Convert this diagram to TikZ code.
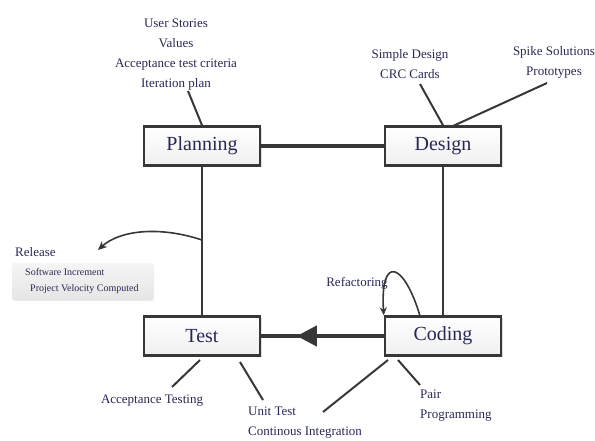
\documentclass[tikz,border=0pt]{standalone}
\usepackage{fontspec}
\setmainfont{Liberation Serif}
\usetikzlibrary{arrows.meta,shadows}
\definecolor{txt}{RGB}{40,40,85}
\definecolor{ln}{RGB}{55,55,55}
\tikzset{
  box/.style={draw=ln, line width=2.5pt, minimum width=116pt, minimum height=39pt,
    top color=white, bottom color=gray!12, text=txt,
    font=\fontsize{20}{24}\selectfont,
    drop shadow={opacity=0.25, shadow xshift=1.5pt, shadow yshift=-1.5pt}},
  note/.style={text=txt, font=\fontsize{13}{20}\selectfont, inner sep=0pt, align=center},
  small/.style={text=txt, font=\fontsize{10}{12}\selectfont, inner sep=0pt},
  conn/.style={draw=ln, line width=2.5pt},
  thick conn/.style={draw=ln, line width=4pt},
  ann/.style={draw=ln, line width=2pt},
}
\begin{document}
\begin{tikzpicture}[x=1pt,y=-1pt]
\useasboundingbox (0,0) rectangle (595,441);
% boxes
\node[box] (plan) at (202,146) {Planning};
\node[box] (des)  at (443,146) {Design};
\node[box] (test) at (202,336) {Test};
\node[box] (cod)  at (443,336) {Coding};
% main connectors
\draw[thick conn] (plan) -- (des);
\draw[conn] (plan) -- (test);
\draw[conn] (des) -- (cod);
\draw[thick conn] (cod) -- (test);
\path (cod.west) -- (test.east) coordinate[pos=0.71] (mid);
\draw[ln, line width=4pt, -{Triangle[length=20pt,width=20pt]}] (cod.west) -- (mid);
% planning notes
\node[note] (us) at (176,55) {User Stories\\Values\\Acceptance test criteria\\Iteration plan};
\coordinate (usend) at (188,91);
\draw[ann] (usend) -- (plan.north);
% design notes
\node[note] (sd) at (410,64) {Simple Design\\CRC Cards};
\coordinate (sdend) at (420,84);
\draw[ann] (sdend) -- (des.north);
\node[note] (sp) at (554,62) {Spike Solutions\\Prototypes};
\coordinate (spend) at (547,83);
\coordinate (spdes) at (453,126);
\draw[ann] (spend) -- (spdes);
% release
\coordinate (rel) at (202,240);
\coordinate (relend) at (98,250);
\draw[ln, line width=1.6pt, -{Stealth[length=9pt,width=8pt]}] (rel) .. controls (160,226) and (120,230) .. (relend);
\node[small, font=\fontsize{13}{16}\selectfont, anchor=west] (rl) at (15,252) {Release};
\node[top color=gray!8, bottom color=gray!20, rounded corners=2pt, minimum width=141pt, minimum height=37pt,
  drop shadow={opacity=0.15, shadow xshift=1pt, shadow yshift=-1pt}] (gb) at (82.5,281.5) {};
\node[small, anchor=west] (si) at (25,272) {Software Increment};
\node[small, anchor=west] (pv) at (30,289) {Project Velocity Computed};
% refactoring loop
\node[note] (rf) at (357,283) {Refactoring};
\coordinate (lp) at (420,316);
\draw[ln, line width=1.6pt, -{Stealth[length=8pt,width=7pt]}] (lp) .. controls (404,262) and (380,254) .. (cod.north west);
% test notes
\coordinate (t1) at (200,360);
\coordinate (t1e) at (172,387);
\draw[ann] (t1) -- (t1e);
\node[note] (at) at (152,401) {Acceptance Testing};
\coordinate (t2) at (240,362);
\coordinate (t2e) at (263,400);
\draw[ann] (t2) -- (t2e);
\node[note, align=left, anchor=north west] (ut) at (248,407) {Unit Test\\Continous Integration};
% coding notes
\coordinate (c1) at (388,360);
\coordinate (c1e) at (323,412);
\draw[ann] (c1) -- (c1e);
\coordinate (c2) at (398,360);
\coordinate (c2e) at (420,385);
\draw[ann] (c2) -- (c2e);
\node[note, align=left, anchor=north west] (pp) at (420,390) {Pair\\Programming};
\end{tikzpicture}
\end{document}
